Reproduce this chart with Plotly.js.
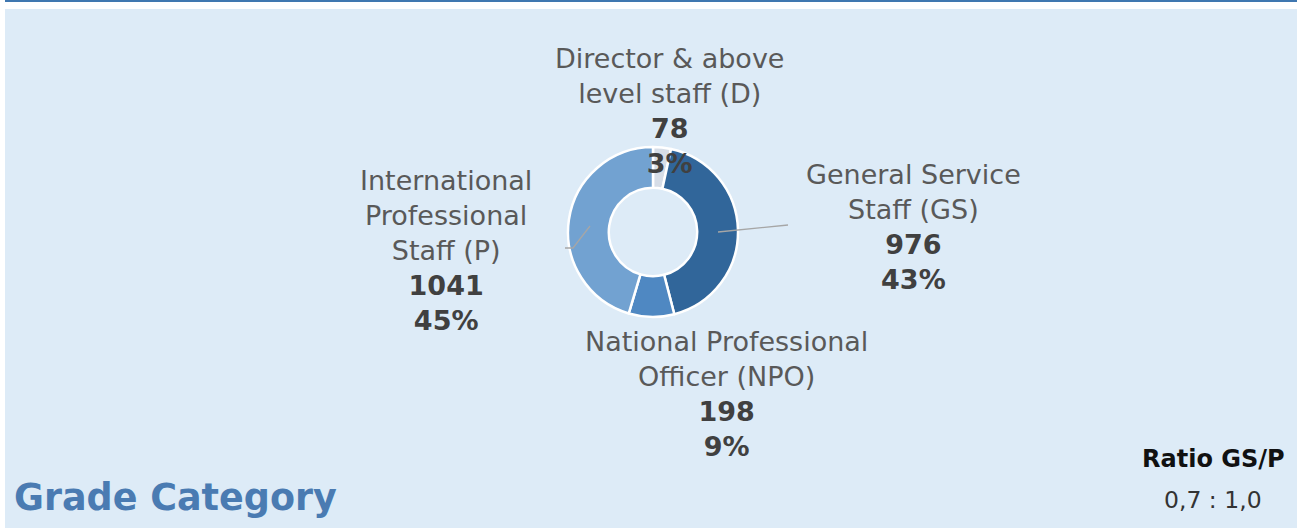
<!DOCTYPE html>
<html>
<head>
<meta charset="utf-8">
<script src="https://cdn.plot.ly/plotly-3.0.1.min.js"></script>
<style>html,body{margin:0;padding:0;background:#fff;}#chart{width:1297px;height:528px;}</style>
</head>
<body>
<div id="chart"></div>
<script>
// ---- data ----
var categories = ["Director & above<br>level staff (D)", "General Service<br>Staff (GS)", "National Professional<br>Officer (NPO)", "International<br>Professional<br>Staff (P)"];
var staffCounts = [78, 976, 198, 1041];
var sliceColors = ["#d6dde7", "#31669a", "#4f88c2", "#72a2d1"];
var chartTitle = "Grade Category";
var ratioTitle = "Ratio GS/P";
var ratioValue = "0,7 : 1,0";

// ---- layout helpers ----
var W = 1297, H = 528;
function px(x){ return x / W; }
function py(y){ return 1 - y / H; }
var FONT = "'DejaVu Sans', Lato, sans-serif";

var total = staffCounts.reduce(function(a,b){return a+b;}, 0);
var labelPos = [[669, 111], [913, 227], [726, 394], [446, 251]];

var annotations = categories.map(function(c, i){
  var pct = Math.round(staffCounts[i] / total * 100);
  return {
    xref: "paper", yref: "paper",
    x: px(labelPos[i][0]), y: py(labelPos[i][1]),
    xanchor: "center", yanchor: "middle",
    showarrow: false, align: "center",
    text: c + "<br><span style='color:#404040'><b>" + staffCounts[i] + "</b></span><br><span style='color:#404040'><b>" + pct + "%</b></span>",
    font: {family: FONT, size: 27, color: "#595959"}
  };
});

annotations.push({
  xref: "paper", yref: "paper", x: px(12), y: py(497),
  xanchor: "left", yanchor: "middle", showarrow: false,
  text: "<b>" + chartTitle + "</b>",
  font: {family: FONT, size: 36.5, color: "#4a7bb2"}
});
annotations.push({
  xref: "paper", yref: "paper", x: px(1213), y: py(459),
  xanchor: "center", yanchor: "middle", showarrow: false,
  text: "<b>" + ratioTitle + "</b>",
  font: {family: FONT, size: 24, color: "#111111"}
});
annotations.push({
  xref: "paper", yref: "paper", x: px(1213), y: py(500),
  xanchor: "center", yanchor: "middle", showarrow: false,
  text: ratioValue,
  font: {family: FONT, size: 23.5, color: "#333333"}
});

var cx = 653, cy = 232, R = 85;

var data = [{
  type: "pie",
  labels: categories,
  values: staffCounts,
  sort: false,
  direction: "clockwise",
  rotation: 0,
  hole: 0.52,
  textinfo: "none",
  hoverinfo: "label+value+percent",
  marker: {colors: sliceColors, line: {color: "#ffffff", width: 2.5}},
  domain: {x: [px(cx - R), px(cx + R)], y: [py(cy + R), py(cy - R)]},
  showlegend: false
}];

var shapes = [
  {type: "rect", xref: "paper", yref: "paper", x0: px(5), x1: 1, y0: 0, y1: py(9),
   fillcolor: "#ddebf7", line: {width: 0}, layer: "below"},
  {type: "line", xref: "paper", yref: "paper", x0: px(5), x1: 1, y0: py(1), y1: py(1),
   line: {color: "#3f77b0", width: 2}},
  {type: "path", xref: "paper", yref: "paper",
   path: "M " + px(590) + " " + py(226) + " L " + px(573) + " " + py(248) + " L " + px(565) + " " + py(248),
   line: {color: "#a6a6a6", width: 1.3}, layer: "above"},
  {type: "line", xref: "paper", yref: "paper", x0: px(718), y0: py(232), x1: px(788), y1: py(225),
   line: {color: "#a6a6a6", width: 1.3}, layer: "above"}
];

var layout = {
  width: W, height: H,
  margin: {l: 0, r: 0, t: 0, b: 0},
  paper_bgcolor: "#ffffff",
  plot_bgcolor: "rgba(0,0,0,0)",
  showlegend: false,
  shapes: shapes,
  annotations: annotations
};

Plotly.newPlot("chart", data, layout, {displayModeBar: false, staticPlot: true});
</script>
</body>
</html>
